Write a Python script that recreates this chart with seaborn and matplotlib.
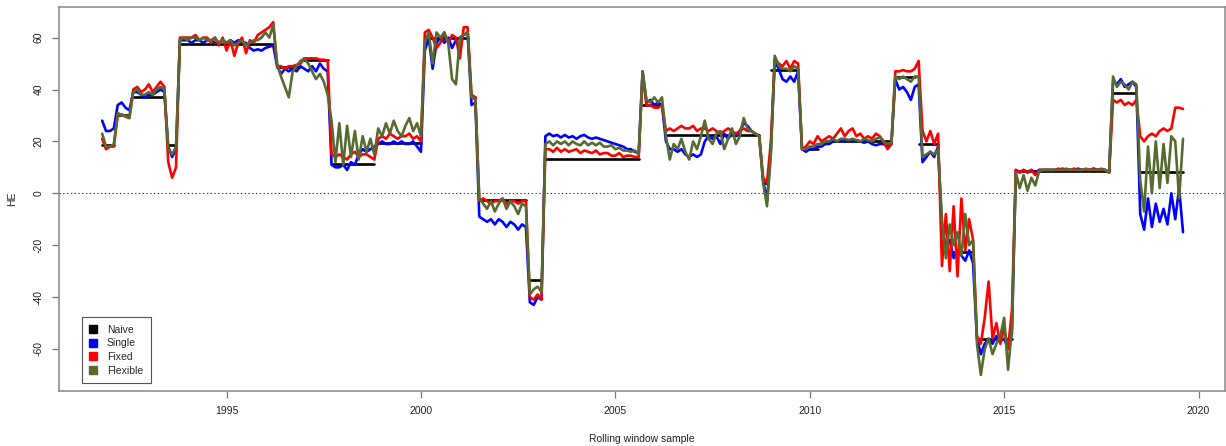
import numpy as np
import pandas as pd
import matplotlib
matplotlib.use("Agg")
import matplotlib.pyplot as plt
from matplotlib.lines import Line2D
import seaborn as sns

# ---------------- data ----------------
start_year = 1991.8
step = 0.1

single = [
    28, 24, 24, 25,
    34, 35, 33, 32,
    39, 39, 38, 37, 38, 38, 39, 40, 39,
    18, 14, 17,
    59, 59, 59, 58, 59, 59, 58, 59, 59, 58, 58, 59, 58, 59, 58, 59, 58, 58, 56, 55, 55.5, 55, 56, 56.5, 57,
    49, 46, 48, 47, 48, 47, 49,
    48, 47, 49, 47, 50, 48, 47,
    11, 10, 10, 11, 9, 12, 11, 15, 17, 16, 17, 18,
    19, 20, 19, 19, 20, 19, 20, 19, 19, 20, 18, 16,
    55, 60, 48, 58, 60, 58, 60, 56, 59, 60, 61, 62,
    34, 35,
    -9, -10, -11, -10, -12, -10, -11, -13, -11, -12, -14, -12, -13,
    -42, -43, -40, -41,
    22, 23, 22, 22.5, 21.5, 22.5, 21.5, 22, 21, 22, 22.5, 21.5, 21, 21.5, 21, 20.5, 20, 19.5, 19, 18.5, 18, 17, 17, 16, 15.5,
    47, 35, 36, 34, 35, 34,
    20, 17, 17, 16, 17, 15, 14, 15, 14, 15, 20, 22, 21, 22, 19, 23, 21, 23, 22, 24, 27, 26, 24, 23, 22,
    5, -3, 17,
    51, 48, 44, 43, 45, 43, 47,
    17, 16, 17, 17, 18, 18, 19, 19, 20, 20, 20.5, 20, 20.5, 20, 20.5, 20, 19.5, 20, 19, 18.5, 19, 19, 18, 19,
    44, 40, 41, 39, 36, 41, 42,
    12, 14, 16, 14, 18,
    -14, -20, -18, -25, -22, -24, -26, -22, -27,
    -56, -62, -58, -56, -58, -55, -57, -56, -60, -54,
    9, 8, 9, 8, 9, 8, 9, 9, 9, 9, 9, 9, 9.5, 9, 9, 9, 9.5, 9, 9, 9, 9.5, 9, 9, 9, 8,
    43, 42, 44, 41, 42, 43, 41,
    -8, -14, -2, -13, -4, -11, -6, -12, 0, -10, 2, -15,
]

fixed = [
    21, 17, 18, 18,
    30, 30.5, 29.5, 29,
    40, 41, 39, 40, 42, 39, 41, 43, 41,
    12, 6, 10,
    60, 60, 60, 60, 61, 59, 60, 60, 58, 60, 57, 60, 55, 59, 53, 58, 60, 54, 59, 58, 61, 62, 63, 64, 66,
    49, 49, 48, 49, 49, 49.5, 50,
    52, 52, 52, 52, 51.5, 51.5, 51,
    15, 14, 15, 14, 13, 15, 16, 14, 15, 15, 14, 13,
    21, 22, 21, 23, 22, 21, 22, 22, 23, 21, 22, 20,
    62, 63, 60, 56, 58, 62, 58, 61, 60, 52, 64, 64,
    38, 37,
    -3, -2, -3, -4, -3, -3, -2, -4, -3, -3, -4, -3, -3,
    -40, -41, -39, -41,
    17, 17, 16, 17.5, 16, 17, 16, 16.5, 17, 15.5, 16.5, 16, 15.5, 16.5, 15, 15.5, 15.5, 14.5, 14.5, 15.5, 14, 14.5, 14.5, 14, 14,
    46, 34, 34, 33, 33, 34,
    24, 25, 24, 25, 26, 25, 25, 26, 24, 25, 25, 24, 25, 24, 23, 24, 25, 24, 23, 24, 25, 24, 24, 23, 22,
    6, 4, 20,
    52, 50, 49, 51, 48, 51, 50,
    17, 18, 20, 19, 22, 20, 21, 22, 21, 23, 25, 22, 24, 25, 22, 23, 21, 22, 21, 23, 22, 20, 17, 19,
    47, 47, 47.5, 47, 47, 48, 51,
    24, 20, 24, 19, 23,
    -28, -8, -30, -5, -32, -2, -22, -10, -18,
    -55, -58, -48, -34, -56, -50, -58, -52, -60, -45,
    9, 8, 9, 8, 9, 7, 9, 9, 9, 9, 9, 9.5, 9, 9, 9, 9.5, 9, 9, 9, 9, 9.5, 9, 9, 9, 8,
    36, 35, 36, 34, 35, 34, 36,
    22, 20, 22, 23, 22, 24, 25, 24, 25, 33, 33, 32.5,
]

flexible = [
    23, 18, 18, 19,
    31, 30, 30, 29,
    39, 40, 38, 38, 39, 38, 40, 41, 40,
    17, 15, 18,
    59, 60, 59, 60, 60, 59, 60, 59, 59, 60, 58, 59, 58, 59, 57, 58, 59, 57, 58, 59, 59, 60, 62, 60, 65,
    50, 45, 41, 37, 47, 49, 51,
    52, 50, 47, 44, 46, 43, 38,
    28, 12, 27, 11, 26, 14, 24, 13, 22, 16, 21, 15,
    25, 22, 27, 23, 28, 24, 22, 26, 29, 24, 27, 22,
    58, 62, 50, 62, 60, 62, 58, 44, 42, 60, 61, 62,
    37, 36,
    -2, -4, -6, -3, -7, -4, -2, -6, -3, -5, -8, -4, -5,
    -39, -37, -36, -38,
    19, 20, 18.5, 20, 19, 20, 18.5, 20, 19, 18.5, 20, 18.5, 19.5, 18.5, 19.5, 18, 18, 18.5, 17, 17.5, 16.5, 16.5, 16, 16.5, 15,
    47, 36, 35, 37, 35, 37,
    22, 13, 19, 17, 21, 16, 13, 20, 17, 22, 28, 21, 19, 23, 24, 17, 21, 25, 19, 22, 29, 25, 24, 23, 22,
    4, -5, 15,
    53, 49, 48, 48, 47, 49, 48,
    17, 17, 18, 18, 19, 19, 20, 20, 21, 20, 21, 21, 20.5, 21, 20.5, 20, 21, 20.5, 20, 21, 21.5, 20, 19, 19.5,
    45, 44, 45, 44, 43, 45, 45,
    14, 15, 16, 15, 17,
    -10, -25, -12, -20, -15, -24, -8, -20, -18,
    -58, -70, -60, -56, -62, -58, -55, -48, -68, -52,
    8, 2, 7, 1, 6, 3, 8.5, 9, 9, 9, 9, 9, 9, 9.5, 9, 9, 9, 9, 9.5, 9, 9, 9, 9.5, 9, 8,
    45, 41, 43, 42, 40, 43, 42,
    5, -7, 18, 0, 20, 2, 19, 4, 22, 20, -2, 21,
]

# Naive: piecewise-constant levels with their start dates
naive_start = [1991.8, 1992.15, 1992.56, 1993.43, 1993.8, 1996.29, 1996.93, 1997.63,
               1998.9, 2000.1, 2001.3, 2001.43, 2002.77, 2003.18, 2005.7, 2006.27,
               2008.75, 2009.0, 2009.71, 2010.3, 2012.18, 2012.8, 2013.33, 2014.24,
               2015.22, 2017.71, 2018.48]
naive_level = [18.5, 30, 37.3, 18.6, 57.6, 48.8, 51.4, 11.2,
               19.5, 59.8, 37, -2.6, -33.4, 13.2, 34, 22.5,
               4, 47.5, 17, 20, 45, 19, -22.5, -56,
               8.5, 38.6, 8.3]
naive_end = 2019.64

series_names = ["Naive", "Single", "Fixed", "Flexible"]
series_colors = ["#000000", "#0000FF", "#FF0000", "#556B2F"]
x_ticks = [1995, 2000, 2005, 2010, 2015, 2020]
y_ticks = [-60, -40, -20, 0, 20, 40, 60]

# ---------------- build frames ----------------
n = len(single)
assert len(fixed) == n and len(flexible) == n
years = np.round(start_year + step * np.arange(n), 3)
long_df = pd.concat([
    pd.DataFrame({"year": years, "HE": single, "model": "Single"}),
    pd.DataFrame({"year": years, "HE": fixed, "model": "Fixed"}),
    pd.DataFrame({"year": years, "HE": flexible, "model": "Flexible"}),
], ignore_index=True)

# naive on the same sampling dates: one horizontal piece per regime
ends = naive_start[1:] + [naive_end + 1]
naive_rows = []
for k, (s, e, lev) in enumerate(zip(naive_start, ends, naive_level)):
    inside = years[(years >= s - 1e-6) & (years < e - 1e-6)]
    for yv in inside:
        naive_rows.append({"year": yv, "HE": lev, "seg": k})
naive_df = pd.DataFrame(naive_rows)

# ---------------- plot ----------------
sns.set_style("ticks")
plt.rcParams["font.family"] = ["Liberation Sans", "DejaVu Sans"]

fig = plt.figure(figsize=(12.26, 4.46), dpi=100)
ax = fig.add_axes([59 / 1226, 55 / 446, 1 - 59 / 1226 - 0.0005, 384 / 446])

lw = 1.9
sns.lineplot(data=naive_df, x="year", y="HE", units="seg", ax=ax,
             color=series_colors[0], lw=lw, estimator=None, sort=False, legend=False)
palette = dict(zip(series_names[1:], series_colors[1:]))
for name in series_names[1:]:
    sns.lineplot(data=long_df[long_df["model"] == name], x="year", y="HE", ax=ax,
                 color=palette[name], lw=lw, estimator=None, sort=False, legend=False)

ax.axhline(0, color="#333333", lw=0.8, ls=(0, (1.2, 2.2)), zorder=1)

ax.set_xlim(1990.69, 2020.69)
ax.set_ylim(-76.2, 71.8)
ax.set_xticks(x_ticks)
ax.set_yticks(y_ticks)
ax.set_xticklabels([str(t) for t in x_ticks], fontsize=7.5, color="#222222")
ax.set_yticklabels([str(t) for t in y_ticks], fontsize=7.5, color="#222222",
                   rotation=90, va="center")
ax.tick_params(axis="both", direction="out", length=5, width=0.9, color="#777777", pad=6)
ax.set_xlabel("Rolling window sample", fontsize=7.5, color="#222222", labelpad=13)
ax.set_ylabel("HE", fontsize=7.5, color="#222222", labelpad=12)
for sp in ax.spines.values():
    sp.set_visible(True)
    sp.set_color("#888888")
    sp.set_linewidth(1.1)

handles = [Line2D([], [], ls="none", marker="s", markersize=6, color=c,
                  markeredgecolor=c) for c in series_colors]
leg = ax.legend(handles, series_names, loc="lower left",
                bbox_to_anchor=(0.0197, 0.021), borderaxespad=0,
                fontsize=7.5, frameon=True, fancybox=False, framealpha=1,
                edgecolor="#555555", handlelength=0.8, handletextpad=0.9,
                labelspacing=0.35, borderpad=0.7)
leg.get_frame().set_linewidth(0.8)

fig.savefig("out.png", dpi=100)
